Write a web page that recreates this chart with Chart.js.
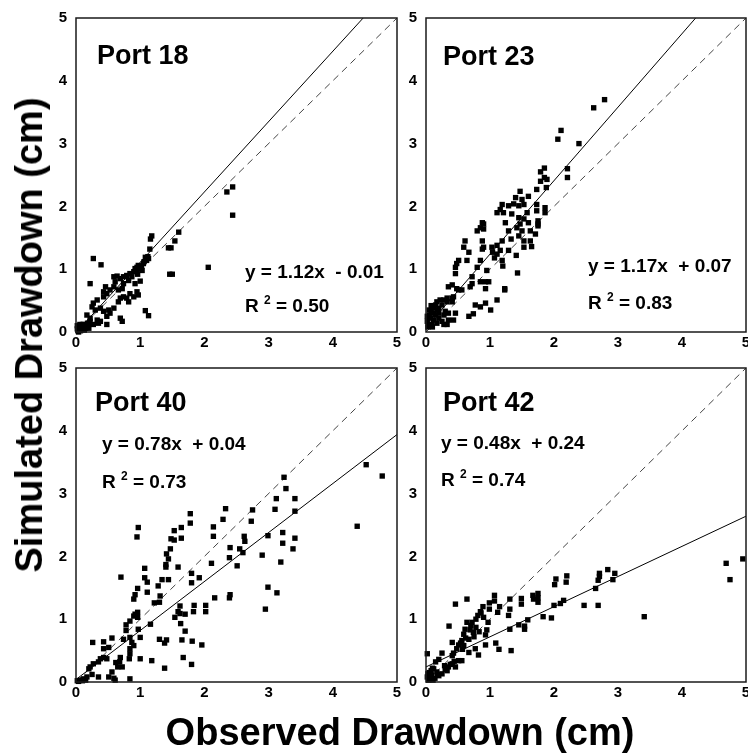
<!DOCTYPE html>
<html>
<head>
<meta charset="utf-8">
<script src="https://cdn.jsdelivr.net/npm/chart.js@4.4.1/dist/chart.umd.min.js"></script>
<style>
  html, body { margin: 0; padding: 0; background: #fff; overflow: hidden; width: 748px; height: 756px; }
  canvas { position: absolute; }
  .title { position: absolute; font: bold 38px "Liberation Sans", Arial, sans-serif; line-height: 38px; white-space: nowrap; color: #000; }
  #xTitle { left: 400px; top: 713px; transform: translateX(-50%); }
  #yTitle { left: 29px; top: 335px; transform: translate(-50%, -50%) rotate(-90deg); }
</style>
</head>
<body>
<canvas id="p18"></canvas>
<canvas id="p23"></canvas>
<canvas id="p40"></canvas>
<canvas id="p42"></canvas>
<div class="title" id="yTitle">Simulated Drawdown (cm)</div>
<div class="title" id="xTitle">Observed Drawdown (cm)</div>
<script>
// axis range / ticks (both axes, all panels)
const tickValues = [0, 1, 2, 3, 4, 5];

// [observed, simulated] pairs
const port18 = [
  [0.27,1.17],[0.39,1.07],[0.22,0.77],[1.16,1.48],[1.18,1.53],[1.15,1.32],[1.08,1.19],[1.13,1.17],
  [1.44,1.34],[1.48,1.34],[1.54,1.45],[1.60,1.59],[1.46,0.92],[1.50,0.92],[2.06,1.03],[2.35,2.23],
  [2.44,2.31],[2.44,1.86],[1.08,0.34],[1.13,0.26],[1.00,0.81],
  [0.59,0.88],[0.64,0.89],[0.61,0.80],[0.69,0.85],[0.74,0.88],[0.79,0.90],[0.84,0.93],[0.90,0.96],
  [0.92,1.01],[0.95,1.03],[0.97,1.06],[0.87,0.88],[0.82,0.82],[0.74,0.77],[0.72,0.69],[0.66,0.67],
  [0.59,0.72],[0.53,0.67],[0.48,0.61],[0.43,0.56],[0.43,0.64],[0.46,0.72],[0.33,0.51],[0.27,0.46],
  [0.25,0.40],[0.30,0.35],[0.38,0.38],[0.43,0.33],[0.51,0.35],[0.53,0.30],[0.48,0.25],[0.59,0.38],
  [0.66,0.48],[0.69,0.54],[0.74,0.56],[0.79,0.54],[0.84,0.61],[0.95,0.64],[0.97,0.59],[0.90,0.56],
  [0.82,0.48],[0.69,0.22],[0.72,0.17],[0.48,0.12],[0.38,0.17],[0.33,0.19],[0.22,0.22],[0.17,0.27],
  [0.12,0.12],[0.07,0.06],[0.04,0.04],[0.09,0.04],[0.15,0.06],[0.20,0.12],[0.27,0.12],[0.35,0.14],
  [0.22,0.17],[1.03,0.98],[1.05,1.09],[1.10,1.14],[0.96,0.92],[0.92,0.77],
  [0.02,0.05],[0.05,0.08],[0.08,0.10],[0.10,0.05],[0.03,0.02],[0.12,0.08],[0.06,0.12],[0.15,0.10],
  [0.18,0.14],[0.02,0.10],[0.04,0.00],[0.10,0.12],[0.13,0.03],[0.07,0.02],[0.20,0.06],[1.02,1.04],
  [1.06,1.12],[0.99,1.00],[0.94,0.98],[1.12,1.20]
];

const port23 = [
  [2.62,3.57],[2.79,3.70],[2.06,3.07],[2.11,3.21],[2.39,3.00],[2.21,2.60],[2.21,2.46],
  [1.79,2.40],[1.85,2.46],[1.85,2.61],[1.79,2.55],[1.89,2.43],[1.88,2.30],[1.73,2.27],[1.47,2.24],
  [1.60,2.16],[1.50,2.11],[1.40,2.14],[1.37,2.04],[1.45,2.01],[1.53,2.03],[1.29,2.01],[1.19,2.03],
  [1.16,1.95],[1.11,1.90],[1.21,1.90],[1.34,1.88],[1.45,1.82],[1.73,2.03],[1.73,1.93],[1.86,1.98],
  [1.86,1.90],[1.58,1.90],[1.60,1.74],[1.53,1.80],[1.47,1.72],[1.42,1.66],[1.50,1.61],[1.63,1.61],
  [1.75,1.72],[1.75,1.77],[1.75,1.69],[1.71,1.56],[1.63,1.45],[1.65,1.36],[1.53,1.35],[1.53,1.45],
  [1.45,1.53],[1.33,1.48],[1.29,1.61],[1.24,1.74],[1.19,1.45],[1.16,1.30],[1.11,1.38],[1.04,1.27],
  [1.03,1.35],[1.07,1.18],[1.11,1.24],[1.19,1.14],[1.20,1.05],[1.29,1.30],[1.41,1.22],[1.43,0.94],
  [1.23,0.67],[1.23,0.69],[1.11,0.51],[1.01,0.35],[0.93,0.46],[0.85,0.40],[0.77,0.43],[0.74,0.29],
  [0.67,0.25],[0.93,0.69],[0.85,0.80],[0.98,0.80],[0.95,0.98],[0.93,0.80],[0.85,1.14],[0.88,1.32],
  [0.90,1.35],[0.88,1.45],[0.80,1.61],[0.85,1.66],[0.88,1.74],[0.90,1.72],[0.90,1.64],[0.80,1.03],
  [0.72,0.88],[0.69,0.72],[0.72,0.77],[0.64,1.14],[0.67,1.27],[0.61,1.45],[0.59,1.35],[0.51,1.14],
  [0.48,1.09],[0.46,1.03],[0.46,0.93],[0.35,0.72],[0.41,0.75],[0.48,0.69],[0.51,0.67],[0.43,0.56],
  [0.41,0.48],[0.46,0.30],[0.35,0.19],[0.43,0.19],[0.35,0.30],[0.30,0.33],[0.28,0.51],[0.22,0.51],
  [0.17,0.48],[0.15,0.43],[0.12,0.38],[0.08,0.33],[0.05,0.27],[0.20,0.38],[0.25,0.43],[0.33,0.48],
  [0.41,0.54],[0.33,0.54],[0.56,0.67],[0.25,0.17],[0.33,0.12],[0.28,0.12],[0.17,0.14],[0.12,0.19],
  [0.09,0.12],[0.04,0.12],[0.02,0.17],[0.07,0.22],[0.15,0.27],[0.20,0.22],[0.28,0.27],[0.20,0.30],
  [0.03,0.08],[0.06,0.10],[0.10,0.08],[0.02,0.25],[0.05,0.35],[0.08,0.42],[0.12,0.30],[0.18,0.35]
];

const port40 = [
  [4.52,3.46],[4.77,3.28],[4.38,2.48],
  [3.24,3.26],[3.27,3.08],[3.12,2.92],[3.41,2.92],[3.10,2.75],[3.41,2.72],[3.22,2.38],[3.41,2.29],
  [3.22,2.21],[3.38,2.12],[3.19,1.91],[2.99,2.33],[2.99,1.51],[3.13,1.42],[2.95,1.16],[2.90,2.02],
  [2.75,2.74],[2.73,2.56],[2.62,2.32],[2.63,2.24],[2.60,2.06],[2.55,2.12],[2.51,1.85],[2.40,2.14],
  [2.39,1.98],[2.40,1.39],[2.39,1.34],[2.33,2.76],[2.29,2.59],[2.14,2.47],[2.14,2.32],[2.11,1.89],
  [2.16,1.34],[2.02,1.22],[2.02,1.12],
  [1.78,2.68],[1.78,2.53],[1.64,2.46],[1.53,2.41],[1.48,2.28],[1.53,2.26],[1.64,2.29],[1.47,2.12],
  [1.41,2.04],[1.44,1.96],[1.40,1.87],[1.40,1.83],[1.59,1.83],[1.44,1.63],[1.34,1.63],[1.28,1.53],
  [1.31,1.37],[1.30,1.27],[1.22,1.26],[1.80,1.73],[1.80,1.58],[1.92,1.66],[1.84,1.22],[1.83,1.12],
  [1.62,1.21],[1.62,1.09],[1.59,1.12],[1.54,1.03],[1.70,1.08],[1.63,0.93],[1.65,0.67],[1.70,0.81],
  [1.67,0.39],[1.80,0.28],[1.81,0.65],[1.96,0.59],[1.41,0.67],[1.38,0.62],[1.30,0.68],[1.38,0.22],
  [1.18,0.34],[1.16,0.92],[1.00,0.71],[1.00,0.37],[0.97,2.46],[0.95,2.31],[1.07,1.81],[1.07,1.66],
  [1.11,1.59],[1.11,1.43],[0.96,1.49],[0.92,1.39],[0.90,1.32],[0.96,1.11],[0.92,1.08],[0.96,1.03],
  [0.97,0.84],[0.90,1.05],[0.84,0.97],[0.78,0.91],[0.78,0.82],[0.74,0.68],[0.84,0.71],[0.87,0.63],
  [0.90,0.58],[0.84,0.53],[0.84,0.45],[0.83,0.37],[0.84,0.05],[0.70,1.67],[0.69,0.39],[0.68,0.32],
  [0.72,0.24],[0.65,0.24],[0.62,0.31],[0.56,0.70],[0.51,0.55],[0.43,0.64],[0.43,0.53],[0.43,0.39],
  [0.48,0.37],[0.38,0.37],[0.35,0.32],[0.27,0.29],[0.26,0.63],[0.22,0.24],[0.20,0.21],[0.25,0.12],
  [0.35,0.08],[0.51,0.08],[0.59,0.06],[0.61,0.03],[0.56,0.16],[0.17,0.08],[0.12,0.05],[0.07,0.03],
  [0.04,0.01],[0.10,0.02],[0.15,0.03],[0.02,0.02]
];

const port42 = [
  [4.95,1.96],[4.69,1.89],[4.75,1.63],[3.41,1.04],
  [2.84,1.79],[2.71,1.73],[2.71,1.68],[2.69,1.62],[2.65,1.49],[2.69,1.22],[2.95,1.73],[2.92,1.63],
  [2.47,1.22],[2.20,1.69],[2.19,1.59],[2.15,1.30],[2.10,1.25],[2.03,1.64],[2.01,1.55],[2.00,1.22],
  [1.96,1.02],[1.83,1.04],[1.75,1.41],[1.75,1.34],[1.75,1.27],[1.67,1.38],[1.68,1.32],[1.49,1.33],
  [1.49,1.24],[1.54,0.89],[1.54,0.84],[1.59,0.99],[1.45,0.91],[1.31,1.32],[1.31,1.16],[1.29,1.06],
  [1.31,0.84],[1.33,0.50],[1.15,1.20],[1.12,1.11],[1.07,1.38],[1.07,1.29],[1.09,0.62],[1.14,0.52],
  [0.99,1.26],[0.99,1.16],[0.97,0.95],[0.95,0.83],[0.93,0.75],[0.93,0.59],[0.89,1.20],[0.85,1.12],
  [0.81,1.06],[0.78,1.00],[0.78,0.87],[0.74,0.79],[0.77,0.53],[0.82,0.43],[0.72,0.95],[0.69,0.83],
  [0.67,0.68],[0.64,1.32],[0.64,0.95],[0.61,0.84],[0.59,0.76],[0.56,0.66],[0.54,0.62],[0.67,0.47],
  [0.59,0.58],[0.51,0.59],[0.48,0.53],[0.46,1.24],[0.43,0.46],[0.41,0.42],[0.41,0.63],[0.36,0.89],
  [0.51,0.34],[0.56,0.34],[0.46,0.24],[0.41,0.29],[0.35,0.24],[0.33,0.18],[0.29,0.26],[0.25,0.46],
  [0.20,0.36],[0.15,0.32],[0.12,0.21],[0.17,0.16],[0.25,0.13],[0.20,0.10],[0.09,0.11],[0.07,0.05],
  [0.03,0.13],[0.02,0.45],[0.04,0.03],[0.14,0.06],[0.08,0.18],[0.02,0.08],
  [0.86,1.10],[0.90,1.03],[0.70,0.90],[0.62,0.70],[0.75,0.72],[0.83,0.80],[0.57,0.52],[0.30,0.20],
  [0.38,0.28],[0.44,0.33],[0.10,0.22],[0.05,0.15],[0.11,0.03],[0.18,0.12]
];

// 1:1 line and fitted regression lines (end points at x = 0 and x = 5)
const oneToOneX = [0, 5];
const oneToOneY = [0, 5];
const fit18Y = [-0.01, 5.59];
const fit23Y = [0.07, 5.92];
const fit40Y = [0.04, 3.94];
const fit42Y = [0.24, 2.64];

const portNames = ['Port 18', 'Port 23', 'Port 40', 'Port 42'];
const equations = ['y = 1.12x  - 0.01', 'y = 1.17x  + 0.07', 'y = 0.78x  + 0.04', 'y = 0.48x  + 0.24'];
const r2Values = ['0.50', '0.83', '0.73', '0.74'];

const FONT = '"Liberation Sans", Arial, sans-serif';
const Y_AXIS_W = 30;
const X_AXIS_H = 22;

function toPoints(xs, ys) {
  return xs.map((x, i) => ({ x: x, y: ys[i] }));
}

const notesPlugin = {
  id: 'notes',
  afterDraw(chart, args, opts) {
    const { ctx, chartArea: a } = chart;
    ctx.save();
    ctx.strokeStyle = '#1a1a1a';
    ctx.lineWidth = 1.5;
    ctx.strokeRect(a.left, a.top, a.right - a.left, a.bottom - a.top);

    ctx.fillStyle = '#000';
    ctx.textBaseline = 'alphabetic';
    ctx.textAlign = 'left';
    ctx.font = 'bold 27px ' + FONT;
    ctx.fillText(opts.name, a.left + opts.nameAt[0], a.top + opts.nameAt[1]);

    ctx.font = 'bold 19px ' + FONT;
    ctx.fillText(opts.eq, a.left + opts.eqAt[0], a.top + opts.eqAt[1]);

    let x = a.left + opts.r2At[0];
    const y = a.top + opts.r2At[1];
    ctx.fillText('R ', x, y);
    x += ctx.measureText('R ').width;
    ctx.font = 'bold 12px ' + FONT;
    ctx.fillText('2', x, y - 8);
    x += ctx.measureText('2').width;
    ctx.font = 'bold 19px ' + FONT;
    ctx.fillText(' = ' + opts.r2, x, y);
    ctx.restore();
  }
};

const panels = [
  { id: 'p18', pts: port18, fitY: fit18Y, k: 0,
    box: { left: 0, top: 0, width: 410, height: 360 }, area: { l: 76, r: 397, t: 15, b: 332 },
    nameAt: [21, 46], eqAt: [169, 260], r2At: [169, 294] },
  { id: 'p23', pts: port23, fitY: fit23Y, k: 1,
    box: { left: 390, top: 0, width: 370, height: 360 }, area: { l: 426, r: 746, t: 15, b: 332 },
    nameAt: [17, 47], eqAt: [162, 254], r2At: [162, 291] },
  { id: 'p40', pts: port40, fitY: fit40Y, k: 2,
    box: { left: 0, top: 350, width: 410, height: 370 }, area: { l: 76, r: 397, t: 365, b: 682 },
    nameAt: [19, 43], eqAt: [26, 82], r2At: [26, 120] },
  { id: 'p42', pts: port42, fitY: fit42Y, k: 3,
    box: { left: 390, top: 350, width: 370, height: 370 }, area: { l: 426, r: 746, t: 365, b: 682 },
    nameAt: [17, 43], eqAt: [15, 81], r2At: [15, 118] }
];

function axis(isY) {
  return {
    type: 'linear',
    min: tickValues[0],
    max: tickValues[tickValues.length - 1],
    grid: { display: false, drawTicks: false },
    border: { display: false },
    afterBuildTicks: (s) => { s.ticks = tickValues.map(v => ({ value: v })); },
    afterFit: (s) => { if (isY) s.width = Y_AXIS_W; else s.height = X_AXIS_H; },
    ticks: {
      color: '#000',
      padding: isY ? 9 : 2,
      font: { family: FONT, size: 15, weight: 'bold' }
    }
  };
}

panels.forEach(p => {
  const cv = document.getElementById(p.id);
  cv.width = p.box.width;
  cv.height = p.box.height;
  cv.style.left = p.box.left + 'px';
  cv.style.top = p.box.top + 'px';

  new Chart(cv, {
    type: 'scatter',
    data: {
      datasets: [
        {
          data: p.pts.map(d => ({ x: d[0], y: d[1] })),
          pointStyle: 'rect',
          pointRadius: 3.8,
          pointBackgroundColor: '#000',
          pointBorderWidth: 0,
          clip: 6
        },
        {
          data: toPoints(oneToOneX, p.fitY),
          showLine: true,
          borderColor: '#000',
          borderWidth: 1,
          pointRadius: 0
        },
        {
          data: toPoints(oneToOneX, oneToOneY),
          showLine: true,
          borderColor: '#444',
          borderWidth: 1,
          borderDash: [7, 5],
          pointRadius: 0
        }
      ]
    },
    options: {
      responsive: false,
      animation: false,
      devicePixelRatio: 1,
      layout: {
        padding: {
          left: p.area.l - p.box.left - Y_AXIS_W,
          right: p.box.left + p.box.width - p.area.r,
          top: p.area.t - p.box.top,
          bottom: p.box.top + p.box.height - p.area.b - X_AXIS_H
        }
      },
      plugins: {
        legend: { display: false },
        tooltip: { enabled: false },
        notes: {
          name: portNames[p.k], eq: equations[p.k], r2: r2Values[p.k],
          nameAt: p.nameAt, eqAt: p.eqAt, r2At: p.r2At
        }
      },
      scales: { x: axis(false), y: axis(true) }
    },
    plugins: [notesPlugin]
  });
});
</script>
</body>
</html>
